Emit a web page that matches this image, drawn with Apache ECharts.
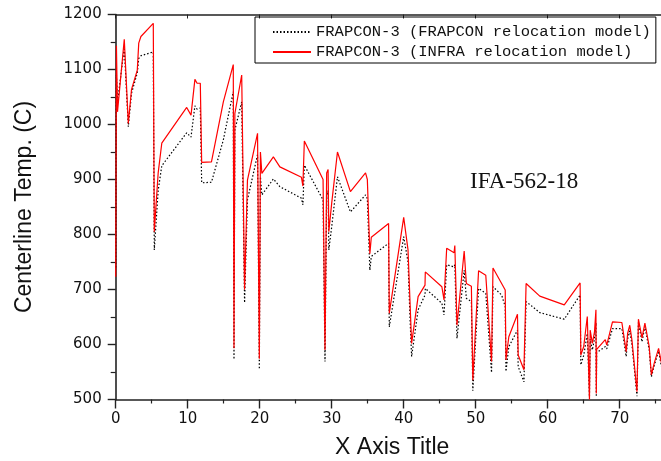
<!DOCTYPE html>
<html>
<head>
  <meta charset="utf-8">
  <title>IFA-562-18</title>
  <script src="https://cdn.jsdelivr.net/npm/echarts@6/dist/echarts.min.js"></script>
  <style>
    html, body { margin: 0; padding: 0; background: #fff; }
    #chart1 { width: 661px; height: 461px; }
  </style>
</head>
<body>
<div id="chart1"></div>
<script type="text/javascript">
  // x positions shared by both runs
  let xs = [0.0, 0.1, 0.25, 1.19, 1.75, 2.2, 3.0, 3.2, 3.5, 5.22, 5.36, 5.9, 6.4, 9.86, 10.46, 11.0, 11.3, 11.75, 11.94, 13.3,
    14.95, 16.33, 16.43, 16.55, 17.5, 17.9, 18.3, 19.7, 19.95, 20.1, 20.3, 21.9, 22.8, 25.8, 26.0, 26.2, 28.8, 29.07, 29.3, 29.5,
    29.6, 30.0, 30.8, 32.6, 34.7, 34.95, 35.3, 35.5, 37.9, 38.0, 40.0, 40.6, 40.9, 41.1, 42.0, 42.96, 43.0, 45.3, 45.6, 45.97,
    47.0, 47.1, 47.4, 48.4, 48.7, 49.4, 49.6, 50.4, 51.4, 52.2, 52.4, 53.6, 54.1, 54.2, 54.6, 55.8, 55.9, 56.7, 57.0, 58.9,
    62.3, 64.5, 64.6, 65.0, 65.5, 65.8, 65.9, 66.2, 66.5, 66.7, 66.75, 66.8, 68.0, 68.2, 69.0, 70.3, 70.6, 70.9, 71.1, 71.4,
    71.7, 72.4, 72.6, 73.1, 73.5, 74.1, 74.4, 74.8, 75.4, 75.8];
  // FRAPCON relocation model
  let frapcon = [740, 1090, 1040, 1140, 996, 1057, 1094, 1120, 1125, 1132, 772, 880, 925, 985, 977, 1034, 1028, 1030, 894, 895,
    972, 1060, 573, 990, 1041, 676, 863, 945, 555, 905, 872, 901, 887, 866, 854, 926, 863, 569, 872, 880,
    772, 814, 905, 841, 872, 865, 735, 760, 784, 632, 796, 750, 640, 578, 663, 690, 702, 675, 654, 745,
    741, 745, 611, 735, 684, 678, 516, 702, 693, 549, 705, 690, 669, 551, 596, 626, 560, 532, 678, 658,
    646, 690, 563, 580, 620, 505, 610, 590, 610, 640, 505, 585, 596, 592, 629, 629, 605, 578, 610, 625,
    600, 506, 640, 605, 633, 590, 541, 562, 588, 560];
  // INFRA relocation model
  let infra = [723, 1143, 1023, 1155, 1002, 1064, 1099, 1148, 1160, 1184, 805, 912, 966, 1031, 1017, 1082, 1075, 1075, 931, 932,
    1041, 1109, 593, 1020, 1090, 700, 899, 984, 574, 950, 911, 941, 923, 904, 888, 970, 900, 590, 912, 918,
    805, 857, 950, 878, 912, 900, 765, 795, 820, 657, 831, 772, 669, 602, 687, 708, 732, 705, 681, 775,
    767, 780, 635, 770, 711, 706, 535, 734, 726, 569, 739, 711, 699, 572, 614, 655, 581, 554, 711, 688,
    672, 712, 581, 596, 651, 500, 626, 602, 623, 663, 511, 591, 609, 599, 641, 640, 614, 587, 620, 635,
    608, 514, 646, 612, 639, 596, 545, 566, 593, 566];

  let seriesNames = ['FRAPCON-3 (FRAPCON relocation model)', 'FRAPCON-3 (INFRA relocation model)'];

  function pairs(ys) {
    return xs.map((x, i) => [x, ys[i]]);
  }

  let axisColor = '#222';
  let myChart1 = echarts.init(document.getElementById('chart1'), null, {renderer: 'canvas'});

  myChart1.setOption({
    animation: false,
    backgroundColor: '#fff',
    grid: {left: 115.7, top: 14.5, width: 576, bottom: 61.5, outerBoundsMode: 'none', containLabel: false},
    legend: {
      orient: 'vertical',
      left: 255,
      top: 17,
      padding: [7, 5, 3, 17],
      itemWidth: 38,
      itemHeight: 12,
      itemGap: 4,
      borderColor: '#000',
      borderWidth: 1,
      itemStyle: {opacity: 0},
      textStyle: {fontFamily: 'Liberation Mono', fontSize: 15.5, color: '#111'},
      data: seriesNames
    },
    graphic: [{
      type: 'text',
      left: 470,
      top: 170,
      style: {text: 'IFA-562-18', font: '23px "Liberation Serif"', fill: '#111'}
    }],
    xAxis: [{
      type: 'value',
      min: 0,
      max: 80,
      interval: 10,
      name: 'X Axis Title',
      nameLocation: 'middle',
      nameGap: 37,
      nameTextStyle: {fontFamily: 'Liberation Sans', fontSize: 23, color: '#111', padding: [0, 23, 0, 0]},
      axisLine: {onZero: false, lineStyle: {color: axisColor, width: 1.6}},
      axisTick: {length: 9, lineStyle: {color: axisColor, width: 1.4}},
      minorTick: {show: true, splitNumber: 2, length: 4, lineStyle: {color: axisColor, width: 1.2}},
      axisLabel: {margin: 12, fontFamily: 'DejaVu Sans', fontSize: 15, color: '#111'},
      splitLine: {show: false}
    }, {
      type: 'value',
      position: 'top',
      min: 0,
      max: 80,
      interval: 10,
      axisLine: {onZero: false, lineStyle: {color: axisColor, width: 1.6}},
      axisTick: {inside: true, length: 4, lineStyle: {color: axisColor}},
      axisLabel: {show: false},
      splitLine: {show: false}
    }],
    yAxis: {
      type: 'value',
      min: 500,
      max: 1200,
      interval: 100,
      name: 'Centerline Temp. (C)',
      nameLocation: 'middle',
      nameGap: 80,
      nameTextStyle: {fontFamily: 'Liberation Sans', fontSize: 23, color: '#111'},
      axisLine: {onZero: false, lineStyle: {color: axisColor, width: 1.6}},
      axisTick: {length: 8, lineStyle: {color: axisColor, width: 1.4}},
      minorTick: {show: true, splitNumber: 2, length: 5, lineStyle: {color: axisColor, width: 1.2}},
      axisLabel: {margin: 14, fontFamily: 'DejaVu Sans', fontSize: 15, color: '#111', formatter: (v) => String(v)},
      splitLine: {show: false}
    },
    series: [{
      name: seriesNames[0],
      type: 'line',
      symbol: 'none',
      data: pairs(frapcon),
      lineStyle: {color: '#000', width: 1.2, type: [1.5, 2]},
      itemStyle: {color: '#000'}
    }, {
      name: seriesNames[1],
      type: 'line',
      symbol: 'none',
      data: pairs(infra),
      lineStyle: {color: '#ff0000', width: 1.2},
      itemStyle: {color: '#ff0000'}
    }]
  });
</script>
</body>
</html>
